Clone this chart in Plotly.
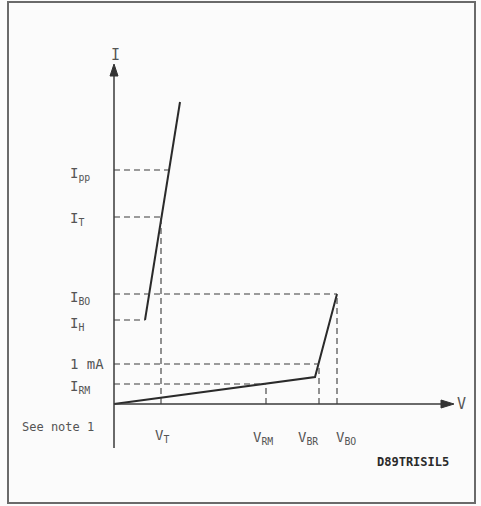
import plotly.graph_objects as go

# ---- data (diagram units: volts / amps arbitrary, origin at axis crossing) ----
v_names = ["V<sub>T</sub>", "V<sub>RM</sub>", "V<sub>BR</sub>", "V<sub>BO</sub>"]
v_values = [47, 152, 205, 223]
i_names = ["I<sub>RM</sub>", "1 mA", "I<sub>H</sub>", "I<sub>BO</sub>", "I<sub>T</sub>", "I<sub>pp</sub>"]
i_values = [20, 40, 84, 110, 187, 234]

# characteristic curve (lower branch: leakage -> breakdown -> breakover)
lower_v = [0, 152, 201, 223]
lower_i = [0, 20, 27, 110]
# on-state branch (holding -> peak pulse)
upper_v = [31, 66]
upper_i = [84, 302]

INK = "#3a3a3a"
TXT = "#555555"
FONT = "DejaVu Sans Mono"

OX, OY = 114, 404  # pixel position of the origin


def X(px):
    return px - OX


def Y(py):
    return OY - py


fig = go.Figure()

# curve
fig.add_trace(go.Scatter(x=lower_v, y=lower_i, mode="lines",
                         line=dict(color="#2a2a2a", width=2), hoverinfo="skip"))
fig.add_trace(go.Scatter(x=upper_v, y=upper_i, mode="lines",
                         line=dict(color="#2a2a2a", width=2), hoverinfo="skip"))


def upper_v_at(i):
    return upper_v[0] + (upper_v[1] - upper_v[0]) * (i - upper_i[0]) / (upper_i[1] - upper_i[0])


dash = dict(color=INK, width=1.1, dash="6px,4px")
shapes = []
# horizontal dashed guides: each runs from the I axis to the point it marks
i_ends = [v_values[1], v_values[2], upper_v[0], v_values[3], v_values[0], None]
for iv, end in zip(i_values, i_ends):
    if end is None:
        end = upper_v_at(iv)
    shapes.append(dict(type="line", x0=0, x1=end, y0=iv, y1=iv, line=dash))
# vertical dashed guides
v_tops = [i_values[4], i_values[0], i_values[1], i_values[3]]
for vv, top in zip(v_values, v_tops):
    shapes.append(dict(type="line", x0=vv, x1=vv, y0=0, y1=top, line=dash))

# axes lines
shapes.append(dict(type="line", x0=0, x1=0, y0=Y(448), y1=Y(72), line=dict(color=INK, width=1.5)))
shapes.append(dict(type="line", x0=0, x1=X(446), y0=0, y1=0, line=dict(color=INK, width=1.5)))
# arrow heads
shapes.append(dict(type="path", path=f"M {X(110)},{Y(76)} L {X(118)},{Y(76)} L {X(114)},{Y(64)} Z",
                   fillcolor="#333", line=dict(color="#333", width=1)))
shapes.append(dict(type="path", path=f"M {X(441)},{Y(400)} L {X(441)},{Y(408)} L {X(454)},{Y(404)} Z",
                   fillcolor="#333", line=dict(color="#333", width=1)))
# frame
shapes.append(dict(type="rect", x0=X(8), x1=X(475), y0=Y(2), y1=Y(503),
                   line=dict(color="#6a6a6a", width=2)))

ann = []


def text(px, py, t, anchor="left", size=14, color=TXT, bold=False):
    ann.append(dict(x=X(px), y=Y(py), text=f"<b>{t}</b>" if bold else t, showarrow=False,
                    xanchor=anchor, yanchor="middle",
                    font=dict(family=FONT, size=size, color=color)))


# axis names
text(115, 55, "I", anchor="center", size=15)
text(461, 404, "V", anchor="center", size=15)

# current labels
i_label_y = [387, 364, 324, 298, 219, 174]
for name, py in zip(i_names, i_label_y):
    text(68, py, name, size=14)

# voltage labels
v_label_pos = [(153, 436), (251, 438), (296, 438), (334, 438)]
for name, (px, py) in zip(v_names, v_label_pos):
    text(px, py, name, size=14)

text(20, 427, "See note 1", size=12)
text(375, 462, "D89TRISIL5", size=12, color="#2a2a2a", bold=True)

fig.update_layout(
    width=481, height=506,
    margin=dict(l=0, r=0, t=0, b=0),
    paper_bgcolor="#fbfbfb", plot_bgcolor="#fbfbfb",
    showlegend=False,
    shapes=shapes, annotations=ann,
    xaxis=dict(range=[X(0), X(481)], visible=False, fixedrange=True),
    yaxis=dict(range=[Y(506), Y(0)], visible=False, fixedrange=True),
)

fig.write_html("out.html")
